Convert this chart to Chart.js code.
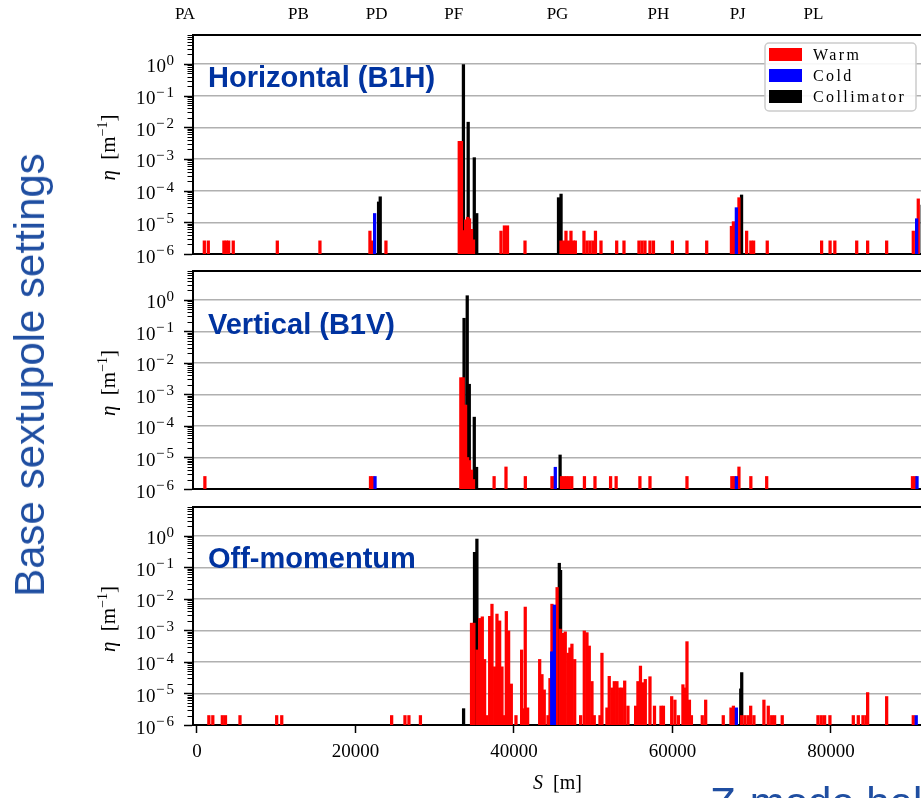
<!DOCTYPE html>
<html lang="en">
  <head>
    <meta charset="UTF-8" />
    <title>Loss maps – base sextupole settings</title>
    <style>
      body {
        margin: 0;
        width: 921px;
        height: 798px;
        overflow: hidden;
        background: #fff;
        position: relative;
      }
      .panel {
        position: absolute;
        left: 0;
      }
      .panel canvas {
        display: block;
      }
      .big {
        position: absolute;
        font: 42px/42px "Liberation Sans", Arial, sans-serif;
        color: #1f4ea1;
        white-space: nowrap;
        z-index: 2;
      }
      #side {
        left: 30px;
        top: 375px;
        transform: translate(-50%, -50%) rotate(-90deg);
      }
      #mode {
        left: 710px;
        top: 782px;
      }
    </style>
  </head>
  <body>
    <div class="big" id="side">Base sextupole settings</div>
    <div class="big" id="mode">Z-mode halo</div>

    <div class="panel" style="top: 0px"><canvas id="hor" width="940" height="270"></canvas></div>
    <div class="panel" style="top: 258px"><canvas id="ver" width="940" height="247"></canvas></div>
    <div class="panel" style="top: 494px"><canvas id="off" width="940" height="304"></canvas></div>

    <script src="https://cdn.jsdelivr.net/npm/chart.js"></script>
    <script>
      const SERIF = '"Liberation Serif", "Times New Roman", serif';
      const SANS = '"Liberation Sans", Arial, sans-serif';

      // axis ranges and labels
      const S_MIN = -500, S_MAX = 91500;
      const ETA_MIN = 1e-6, ETA_MAX = 8.2;
      const sTicks = [0, 20000, 40000, 60000, 80000];
      const decades = [-6, -5, -4, -3, -2, -1, 0];
      const sectionNames = ["PA", "PB", "PD", "PF", "PG", "PH", "PJ", "PL"];
      const sectionPos = [-1510, 12810, 22680, 32400, 45500, 58240, 68240, 77800];

      // Horizontal (B1H)
      const hWarmS = [930, 1430, 3400, 3700, 4000, 4580, 10140, 15520, 21830, 22150, 23850,
        33100, 33380, 33650, 33900, 34150, 34400, 34650, 34900,
        38370, 38800, 39190, 41400,
        45940, 46250, 46570, 46880, 47200, 47510, 47750,
        48840, 49220, 49600, 49980, 50290, 50990, 52970, 53890,
        55780, 56160, 56540, 57170, 57610, 60000, 61840, 64330,
        67450, 67700, 68400, 69370, 69900, 70250, 71970,
        78830, 79900, 80500, 83260, 84640, 87040, 90400, 91030];
      const hWarmEta = [2.6e-6, 2.6e-6, 2.6e-6, 2.6e-6, 2.6e-6, 2.6e-6, 2.6e-6, 2.6e-6, 5.3e-6, 2.6e-6, 2.6e-6,
        3.6e-3, 3.6e-3, 5.5e-6, 1.2e-5, 1.45e-5, 1.3e-5, 6e-6, 2.8e-6,
        5.3e-6, 7.8e-6, 7.8e-6, 2.6e-6,
        2.6e-6, 2.6e-6, 5.3e-6, 2.6e-6, 5.3e-6, 2.6e-6, 2.6e-6,
        5.3e-6, 2.6e-6, 2.6e-6, 2.6e-6, 5.3e-6, 2.6e-6, 2.6e-6, 2.6e-6,
        2.6e-6, 2.6e-6, 2.6e-6, 2.6e-6, 2.6e-6, 2.6e-6, 2.6e-6, 2.6e-6,
        7.5e-6, 1.05e-5, 6e-5, 5.3e-6, 2.6e-6, 2.6e-6, 2.6e-6,
        2.6e-6, 2.6e-6, 2.6e-6, 2.6e-6, 2.6e-6, 2.6e-6, 5.3e-6, 5.5e-5];
      const hColdS = [22750, 68400, 91150];
      const hColdEta = [1.9e-5, 2.9e-5, 1.3e-5];
      const hCollS = [22590, 22800, 33300, 33900, 34670, 34980, 45300, 45620, 68400, 91200];
      const hCollEta = [4.4e-5, 6.4e-5, 0.95, 1.45e-2, 1.1e-3, 1.9e-5, 6e-5, 7.8e-5, 7.3e-5, 3.5e-5];

      // Vertical (B1V)
      const vWarmS = [1000, 21900, 22200, 33300, 33600, 33900, 34150, 34400, 34650, 34900,
        37500, 39000, 41440, 44800, 45150, 46000, 46320, 46640, 46960, 47300,
        48900, 50230, 52200, 52900, 55900, 57170, 61840, 67500, 67800, 68400,
        69900, 71900, 90300, 90650];
      const vWarmEta = [2.5e-6, 2.5e-6, 2.5e-6, 3.4e-3, 3.4e-3, 4.6e-4, 1e-5, 8e-6, 4e-6, 2e-6,
        2.5e-6, 5e-6, 2.5e-6, 2.5e-6, 2.5e-6, 2.5e-6, 2.5e-6, 2.5e-6, 2.5e-6, 2.5e-6,
        2.5e-6, 2.5e-6, 2.5e-6, 2.5e-6, 2.5e-6, 2.5e-6, 2.5e-6, 2.5e-6, 2.5e-6, 5e-6,
        2.5e-6, 2.5e-6, 2.5e-6, 2.5e-6];
      const vColdS = [22800, 45550, 68400, 91200];
      const vColdEta = [2.5e-6, 4.9e-6, 2.5e-6, 2.5e-6];
      const vCollS = [33380, 33780, 34040, 34670, 34960, 45500];
      const vCollEta = [0.26, 1.35, 2.1e-3, 1.9e-4, 4.9e-6, 1.2e-5];

      // Off-momentum
      const oWarmS = [1500, 2000, 3200, 3600, 5430, 10060, 10700, 24570, 26250, 26750, 28200,
        34650, 34950, 35340, 35670, 36010, 36300, 36600, 36940, 37230, 37570,
        37860, 38200, 38490, 38760, 39040, 39330, 39670, 40260, 40970, 41180,
        41430, 41730, 43250, 43540, 43830, 44300, 44550, 44800, 45120, 45450,
        45850, 46150, 46480, 46820, 47070, 47320, 47670, 48420, 48880, 49220,
        49510, 49850, 50140, 50860, 51110, 51740, 52030, 52370, 52670, 53000,
        53350, 53640, 53980, 54390, 55360, 55650, 55970, 56290, 56580, 57170,
        57740, 58560, 58870, 59910, 60320, 60760, 61330, 61590, 61840, 62150,
        62400, 63770, 64200, 66420, 67390, 67700, 68740, 69160, 69570, 69880,
        70290, 71550, 72100, 72530, 72900, 73860, 78370, 78790, 79210, 79880,
        82830, 83460, 84050, 84430, 84640, 87040, 90400];
      const oWarmEta = [2e-6, 2e-6, 2e-6, 2e-6, 2e-6, 2e-6, 2e-6, 2e-6, 2e-6, 2e-6, 2e-6,
        1.7e-3, 1.7e-3, 2.4e-4, 2.4e-3, 2.7e-3, 1.2e-4, 2e-6, 2.8e-3, 6.8e-3, 7e-5,
        3.3e-3, 2e-3, 7e-5, 2e-6, 4e-3, 9.6e-4, 2e-5, 2e-6, 2.4e-4, 3.3e-6,
        5.5e-3, 3.5e-6, 1.2e-4, 4e-5, 1.3e-5, 2e-6, 3e-5, 6.8e-3, 2.7e-3, 2.3e-2,
        1.1e-3, 8.1e-4, 9e-4, 1.9e-4, 2.8e-4, 3.7e-4, 1.2e-4, 2e-6, 9.6e-4, 8.5e-4,
        3.2e-4, 2.4e-5, 2e-6, 2e-6, 1.9e-4, 3.5e-6, 3.5e-5, 1.5e-5, 2.4e-5, 2.4e-5,
        1.5e-5, 1.5e-5, 2.5e-5, 4e-6, 4e-6, 2.4e-5, 7.4e-5, 2.2e-5, 2.8e-5, 3.4e-5,
        4e-6, 4e-6, 4e-6, 8e-6, 6.2e-6, 2e-6, 1.9e-5, 1.5e-5, 4.4e-4, 6.2e-6,
        2e-6, 2e-6, 6.2e-6, 2e-6, 3.5e-6, 4e-6, 2e-6, 2e-6, 2e-6, 4e-6,
        2e-6, 6.2e-6, 4e-6, 2e-6, 2e-6, 2e-6, 2e-6, 2e-6, 2e-6, 2e-6,
        2e-6, 2e-6, 2e-6, 2e-6, 1.07e-5, 8e-6, 2e-6];
      const oColdS = [45100, 45430, 68400, 91100];
      const oColdEta = [2.1e-4, 6.4e-3, 3.5e-6, 2e-6];
      const oCollS = [33320, 34700, 35000, 45400, 45560, 68300, 68420];
      const oCollEta = [3.3e-6, 0.3, 0.79, 0.135, 0.08, 1.4e-5, 4.6e-5];

      function pts(s, eta) {
        return s.map((x, i) => ({ x: x, y: eta[i] }));
      }

      // draw a row of text pieces with their own font, vertical shift and spacing
      function drawRuns(ctx, runs, x, y, align) {
        let total = 0;
        runs.forEach((r) => {
          ctx.font = r[1];
          ctx.letterSpacing = (r[3] || 0) + "px";
          total += ctx.measureText(r[0]).width;
        });
        let cx = align === "center" ? x - total / 2 : align === "right" ? x - total : x;
        runs.forEach((r) => {
          ctx.font = r[1];
          ctx.letterSpacing = (r[3] || 0) + "px";
          ctx.fillText(r[0], cx, y + (r[2] || 0));
          cx += ctx.measureText(r[0]).width;
        });
        ctx.letterSpacing = "0px";
      }

      const decor = {
        id: "decor",
        afterDraw(chart, args, o) {
          const ctx = chart.ctx;
          const a = chart.chartArea;
          const y = chart.scales.y;
          ctx.save();
          ctx.fillStyle = "#000";
          ctx.strokeStyle = "#000";
          ctx.textAlign = "left";
          ctx.textBaseline = "alphabetic";

          // major and minor log ticks on the left spine
          for (let d = -6; d <= 0; d++) {
            for (let m = 1; m < 10; m++) {
              const v = m * Math.pow(10, d);
              if (v > y.max) break;
              const py = Math.round(y.getPixelForValue(v)) + 0.5;
              ctx.lineWidth = m === 1 ? 1.5 : 1;
              ctx.beginPath();
              ctx.moveTo(a.left - 1, py);
              ctx.lineTo(a.left - 1 - (m === 1 ? 8 : 4.5), py);
              ctx.stroke();
            }
          }

          // decade labels
          decades.forEach((d) => {
            const py = y.getPixelForValue(Math.pow(10, d));
            drawRuns(ctx, [
              ["10", "19px " + SERIF, 8.5, 0.5],
              [d === 0 ? "0" : "\u2212" + -d, "15px " + SERIF, 1, 2],
            ], 176, py, "right");
          });

          // y axis title
          ctx.save();
          ctx.translate(115, (a.top + a.bottom) / 2);
          ctx.rotate(-Math.PI / 2);
          drawRuns(ctx, [
            ["\u03b7", "italic 21px " + SERIF],
            ["  [m", "21px " + SERIF],
            ["\u22121", "14px " + SERIF, -8],
            ["]", "21px " + SERIF],
          ], -3, 0, "center");
          ctx.restore();

          // panel name
          ctx.font = "bold 29px " + SANS;
          ctx.fillStyle = "#0033a0";
          ctx.fillText(o.name, 208, a.top + o.nameDy);

          if (o.legend) {
            ctx.fillStyle = "rgba(255,255,255,0.9)";
            ctx.strokeStyle = "#cccccc";
            ctx.lineWidth = 1.5;
            ctx.beginPath();
            ctx.roundRect(765, 43, 151, 68, 4);
            ctx.fill();
            ctx.stroke();
            chart.data.datasets.forEach((ds, i) => {
              ctx.fillStyle = ds.backgroundColor;
              ctx.fillRect(769, 48 + i * 21, 33, 13);
              ctx.fillStyle = "#000";
              drawRuns(ctx, [[ds.label, "16px " + SERIF, 0, 2.4]], 813, 60 + i * 21, "left");
            });
          }

          if (o.xTitle) {
            ctx.fillStyle = "#000";
            drawRuns(ctx, [
              ["S", "italic 20px " + SERIF],
              ["  [m]", "20px " + SERIF],
            ], (a.left + a.right) / 2, a.bottom + 64, "center");
          }
          ctx.restore();
        },
      };

      function makePanel(id, cfg) {
        return new Chart(document.getElementById(id), {
          type: "bar",
          data: {
            datasets: [
              { label: "Warm", data: pts(cfg.warm[0], cfg.warm[1]), backgroundColor: "#ff0000", order: 1 },
              { label: "Cold", data: pts(cfg.cold[0], cfg.cold[1]), backgroundColor: "#0000ff", order: 0 },
              { label: "Collimator", data: pts(cfg.coll[0], cfg.coll[1]), backgroundColor: "#000000", order: 2 },
            ],
          },
          options: {
            responsive: false,
            animation: false,
            layout: { padding: { left: 0, right: 18, top: 0, bottom: 0 } },
            datasets: {
              bar: { barThickness: 2.6, borderWidth: 0, stack: "all" },
            },
            plugins: {
              legend: { display: false },
              tooltip: { enabled: false },
              decor: { name: cfg.name, nameDy: cfg.nameDy, legend: cfg.legend, xTitle: cfg.showS },
            },
            scales: {
              x: {
                type: "linear",
                position: "bottom",
                min: S_MIN,
                max: S_MAX,
                offset: false,
                stacked: false,
                afterBuildTicks: (s) => {
                  s.ticks = sTicks.map((v) => ({ value: v }));
                },
                ticks: {
                  display: cfg.showS,
                  autoSkip: false,
                  maxRotation: 0,
                  padding: 8,
                  color: "#000",
                  font: { family: SERIF, size: 19 },
                  callback: (v) => String(v),
                },
                grid: {
                  display: cfg.showS,
                  offset: false,
                  drawOnChartArea: false,
                  tickLength: 8,
                  tickColor: "#000",
                  tickWidth: 1.5,
                },
                border: { display: true, color: "#000", width: 2 },
                afterFit: (s) => {
                  s.height = cfg.bottomH;
                },
              },
              x2: {
                type: "linear",
                axis: "x",
                position: "top",
                min: S_MIN,
                max: S_MAX,
                offset: false,
                afterBuildTicks: (s) => {
                  s.ticks = sectionPos.map((v) => ({ value: v }));
                },
                ticks: {
                  display: cfg.sections,
                  autoSkip: false,
                  maxRotation: 0,
                  padding: 2,
                  color: "#000",
                  font: { family: SERIF, size: 17 },
                  callback: (v, i) => sectionNames[i],
                },
                grid: { display: false },
                border: { display: true, color: "#000", width: 2 },
                afterFit: (s) => {
                  s.height = cfg.topH;
                },
              },
              y: {
                type: "logarithmic",
                min: ETA_MIN,
                max: ETA_MAX,
                beginAtZero: false,
                stacked: false,
                afterBuildTicks: (s) => {
                  s.ticks = decades.map((d) => ({ value: Math.pow(10, d) }));
                },
                ticks: { display: false },
                grid: {
                  drawTicks: false,
                  lineWidth: 1.5,
                  color: (c) => (c.tick && c.tick.value > 5e-6 ? "#b0b0b0" : "rgba(0,0,0,0)"),
                },
                border: { display: true, color: "#000", width: 2 },
                afterFit: (s) => {
                  s.width = 193;
                },
              },
            },
          },
          plugins: [decor],
        });
      }

      makePanel("hor", {
        name: "Horizontal (B1H)", nameDy: 52, legend: true, sections: true, showS: false,
        topH: 35, bottomH: 16,
        warm: [hWarmS, hWarmEta], cold: [hColdS, hColdEta], coll: [hCollS, hCollEta],
      });
      makePanel("ver", {
        name: "Vertical (B1V)", nameDy: 63, legend: false, sections: false, showS: false,
        topH: 13, bottomH: 16,
        warm: [vWarmS, vWarmEta], cold: [vColdS, vColdEta], coll: [vCollS, vCollEta],
      });
      makePanel("off", {
        name: "Off-momentum", nameDy: 61, legend: false, sections: false, showS: true,
        topH: 13, bottomH: 73,
        warm: [oWarmS, oWarmEta], cold: [oColdS, oColdEta], coll: [oCollS, oCollEta],
      });
    </script>
  </body>
</html>
